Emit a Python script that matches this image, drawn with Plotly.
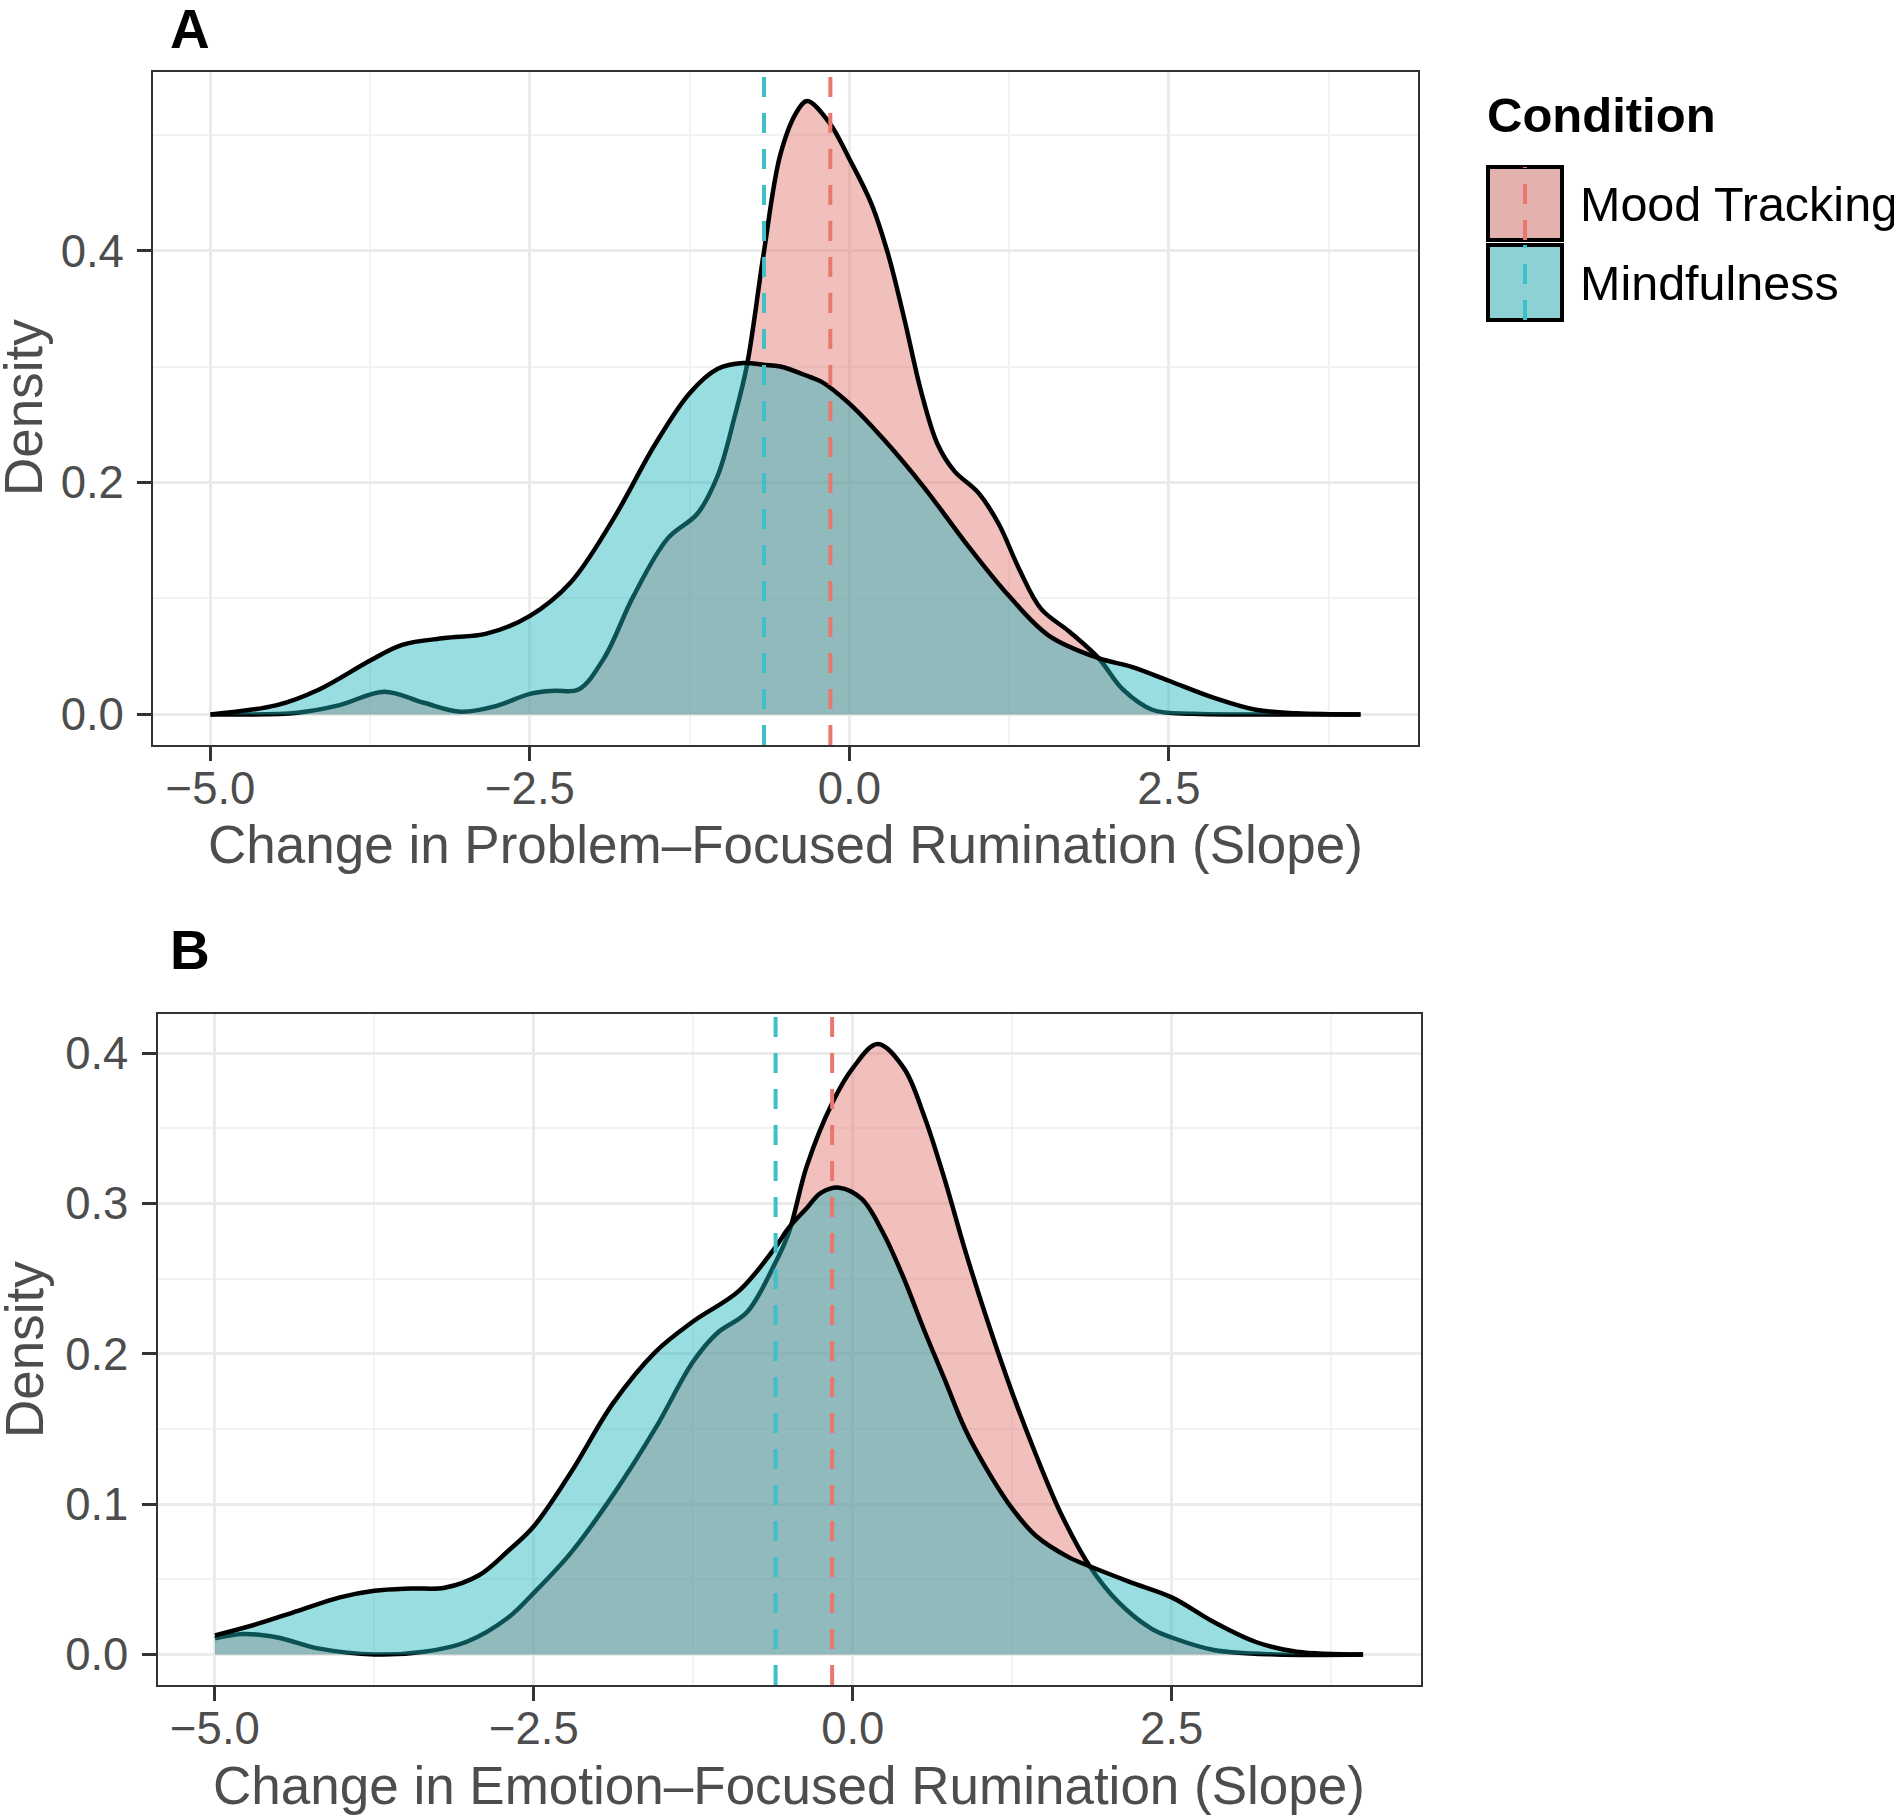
import plotly.graph_objects as go

W, H = 1894, 1816

conditions = ["Mood Tracking", "Mindfulness"]

# panel A - problem-focused rumination, density
a_mood_x = [-5.0, -4.32, -3.99, -3.64, -3.33, -3.04, -2.77, -2.5, -2.31, -2.12, -1.92, -1.69,
            -1.42, -1.19, -1.03, -0.9, -0.8, -0.67, -0.54, -0.41, -0.33, -0.155, 0.0, 0.17,
            0.3, 0.43, 0.56, 0.69, 0.82, 1.01, 1.17, 1.33, 1.5, 1.72, 1.95, 2.14, 2.37, 2.69,
            3.2, 4.0]
a_mood_y = [0.0, 0.0015, 0.008, 0.0196, 0.010, 0.0023, 0.007, 0.0177, 0.0204, 0.0215, 0.0485,
            0.102, 0.152, 0.173, 0.206, 0.256, 0.302, 0.398, 0.483, 0.52, 0.529, 0.51, 0.479,
            0.441, 0.398, 0.341, 0.279, 0.233, 0.21, 0.191, 0.164, 0.125, 0.091, 0.0715,
            0.0485, 0.0215, 0.004, 0.0005, 0.0, 0.0]
a_mind_x = [-5.0, -4.48, -4.15, -3.75, -3.5, -3.17, -2.84, -2.5, -2.18, -1.85, -1.52, -1.25,
            -1.03, -0.83, -0.67, -0.54, -0.31, -0.22, 0.0, 0.27, 0.59, 0.91, 1.25, 1.56, 1.95,
            2.21, 2.5, 2.86, 3.18, 3.5, 4.0]
a_mind_y = [0.0, 0.008, 0.0215, 0.0465, 0.06, 0.0658, 0.0696, 0.085, 0.114, 0.168, 0.233,
            0.277, 0.298, 0.303, 0.3015, 0.3, 0.291, 0.287, 0.268, 0.237, 0.195, 0.148, 0.102,
            0.068, 0.0485, 0.041, 0.029, 0.014, 0.004, 0.001, 0.0]
a_means = [-0.149, -0.668]

# panel B - emotion-focused rumination
b_mood_x = [-5.0, -4.78, -4.51, -4.18, -3.75, -3.36, -3.03, -2.7, -2.5, -2.21, -1.88, -1.55,
            -1.25, -1.06, -0.83, -0.61, -0.5, -0.36, -0.16, 0.0, 0.195, 0.4, 0.56, 0.72, 0.88,
            1.045, 1.25, 1.435, 1.63, 1.857, 2.08, 2.34, 2.5, 2.83, 3.32, 4.0]
b_mood_y = [0.0107, 0.0136, 0.0113, 0.0039, 0.0, 0.0018, 0.0083, 0.0246, 0.041, 0.0676, 0.106,
            0.15, 0.195, 0.214, 0.2276, 0.26, 0.281, 0.325, 0.367, 0.39, 0.406, 0.39, 0.358,
            0.316, 0.269, 0.2246, 0.174, 0.133, 0.094, 0.0587, 0.035, 0.0172, 0.0113, 0.003,
            0.0, 0.0]
b_mind_x = [-5.0, -4.68, -4.35, -4.02, -3.75, -3.46, -3.2, -2.93, -2.7, -2.5, -2.21, -1.88,
            -1.55, -1.25, -0.89, -0.61, -0.5, -0.36, -0.25, -0.107, 0.07, 0.234, 0.396, 0.558,
            0.72, 0.88, 1.045, 1.25, 1.435, 1.695, 1.857, 2.18, 2.5, 2.83, 3.16, 3.48, 4.0]
b_mind_y = [0.0127, 0.02, 0.029, 0.038, 0.0424, 0.0439, 0.0444, 0.0527, 0.069, 0.0853, 0.121,
            0.167, 0.201, 0.2216, 0.242, 0.2705, 0.284, 0.297, 0.307, 0.3105, 0.303, 0.281,
            0.251, 0.216, 0.183, 0.15, 0.124, 0.097, 0.079, 0.0646, 0.0587, 0.048, 0.038,
            0.0216, 0.0083, 0.0018, 0.0]
b_means = [-0.162, -0.605]

x_ticks = [-5.0, -2.5, 0.0, 2.5]
x_ticklabels = ["\u22125.0", "\u22122.5", "0.0", "2.5"]
a_y_ticks = [0.0, 0.2, 0.4]
b_y_ticks = [0.0, 0.1, 0.2, 0.3, 0.4]

FONT = "Liberation Sans, Arial, Helvetica, sans-serif"
fills = ["rgba(223,115,108,0.45)", "rgba(26,179,186,0.45)"]
line_cols = ["#E8776D", "#3FBFC6"]
key_fills = ["#E4B2AE", "#8DD1D4"]
DASH = "20px,16px"


def px_x(v):
    return v / W


def px_y(v):
    return 1 - v / H


def minor_of(ticks):
    # minor grid halfway between the major breaks, like ggplot
    step = ticks[1] - ticks[0]
    return [t + step / 2 for t in ticks]


fig = go.Figure()

panels = [
    ("x", "y", [(a_mood_x, a_mood_y), (a_mind_x, a_mind_y)], a_means),
    ("x2", "y2", [(b_mood_x, b_mood_y), (b_mind_x, b_mind_y)], b_means),
]
for xa, ya, curves, means in panels:
    for i, (cx, cy) in enumerate(curves):
        fig.add_trace(go.Scatter(x=cx, y=cy, xaxis=xa, yaxis=ya, mode="lines",
                                 line=dict(color="black", width=4.5, shape="spline", smoothing=1.0),
                                 fill="tozeroy", fillcolor=fills[i], name=conditions[i],
                                 showlegend=False, hoverinfo="skip"))
    for i, m in enumerate(means):
        fig.add_shape(type="line", xref=xa, yref=ya + " domain", x0=m, x1=m, y0=0, y1=1,
                      line=dict(color=line_cols[i], width=4, dash=DASH), layer="above")

axis_common = dict(showline=True, mirror=True, linecolor="#333333", linewidth=2,
                   ticks="outside", ticklen=14, tickwidth=3, tickcolor="#333333",
                   showgrid=True, gridcolor="#EBEBEB", gridwidth=3, zeroline=False,
                   tickfont=dict(family=FONT, size=45.5, color="#4D4D4D"))

x_minor = dict(tickmode="array", tickvals=minor_of(x_ticks), showgrid=True,
               gridcolor="#F2F2F2", gridwidth=1.8, ticks="")

fig.update_layout(
    width=W, height=H, autosize=False,
    margin=dict(l=0, r=0, t=0, b=0),
    paper_bgcolor="white", plot_bgcolor="white",
    showlegend=False,
    xaxis=dict(domain=[px_x(153), px_x(1418)], range=[-5.45, 4.45], anchor="y",
               tickmode="array", tickvals=x_ticks, ticktext=x_ticklabels,
               ticklabelstandoff=-12, minor=x_minor, **axis_common),
    yaxis=dict(domain=[px_y(745), px_y(72)], range=[-0.0264, 0.554], anchor="x",
               tickmode="array", tickvals=a_y_ticks, tickformat=".1f", ticklabelstandoff=4,
               minor=dict(tickmode="array", tickvals=minor_of(a_y_ticks), showgrid=True,
                          gridcolor="#F2F2F2", gridwidth=1.8, ticks=""),
               **axis_common),
    xaxis2=dict(domain=[px_x(157.5), px_x(1420.5)], range=[-5.45, 4.45], anchor="y2",
                tickmode="array", tickvals=x_ticks, ticktext=x_ticklabels,
                ticklabelstandoff=-12, minor=x_minor, **axis_common),
    yaxis2=dict(domain=[px_y(1685), px_y(1014)], range=[-0.0203, 0.426], anchor="x2",
                tickmode="array", tickvals=b_y_ticks, tickformat=".1f", ticklabelstandoff=4,
                minor=dict(tickmode="array", tickvals=minor_of(b_y_ticks), showgrid=True,
                           gridcolor="#F2F2F2", gridwidth=1.8, ticks=""),
                **axis_common),
)

title_font = dict(family=FONT, size=53, color="#4D4D4D")
notes = [
    dict(text="Change in Problem\u2013Focused Rumination (Slope)", x=px_x(785), y=px_y(845),
         font=title_font),
    dict(text="Change in Emotion\u2013Focused Rumination (Slope)", x=px_x(789), y=px_y(1785),
         font=title_font),
    dict(text="Density", x=px_x(24), y=px_y(408), textangle=-90, font=title_font),
    dict(text="Density", x=px_x(24), y=px_y(1350), textangle=-90, font=title_font),
    dict(text="<b>A</b>", x=px_x(190), y=px_y(29), font=dict(family=FONT, size=55, color="black")),
    dict(text="<b>B</b>", x=px_x(190), y=px_y(950), font=dict(family=FONT, size=55, color="black")),
    dict(text="<b>Condition</b>", x=px_x(1485), y=px_y(115), xanchor="left",
         font=dict(family=FONT, size=49, color="black")),
]
for n in notes:
    n.setdefault("xanchor", "center")
    fig.add_annotation(xref="paper", yref="paper", yanchor="middle", showarrow=False, **n)

# legend keys drawn by hand (big boxes with the mean line inside)
key_rows = [(167, 240), (245, 320)]
for i, (top, bot) in enumerate(key_rows):
    fig.add_shape(type="rect", xref="paper", yref="paper", x0=px_x(1488), x1=px_x(1562),
                  y0=px_y(bot), y1=px_y(top), fillcolor=key_fills[i],
                  line=dict(color="black", width=4))
    fig.add_shape(type="line", xref="paper", yref="paper", x0=px_x(1525), x1=px_x(1525),
                  y0=px_y(bot), y1=px_y(top), line=dict(color=line_cols[i], width=4, dash=DASH))
    fig.add_annotation(xref="paper", yref="paper", x=px_x(1578), y=px_y((top + bot) / 2),
                       xanchor="left", yanchor="middle", showarrow=False, text=conditions[i],
                       font=dict(family=FONT, size=48.5, color="black"))

fig.write_html("out.html", config={"displayModeBar": False},
               post_script="document.body.style.margin='0px';document.body.style.overflow='hidden';")
